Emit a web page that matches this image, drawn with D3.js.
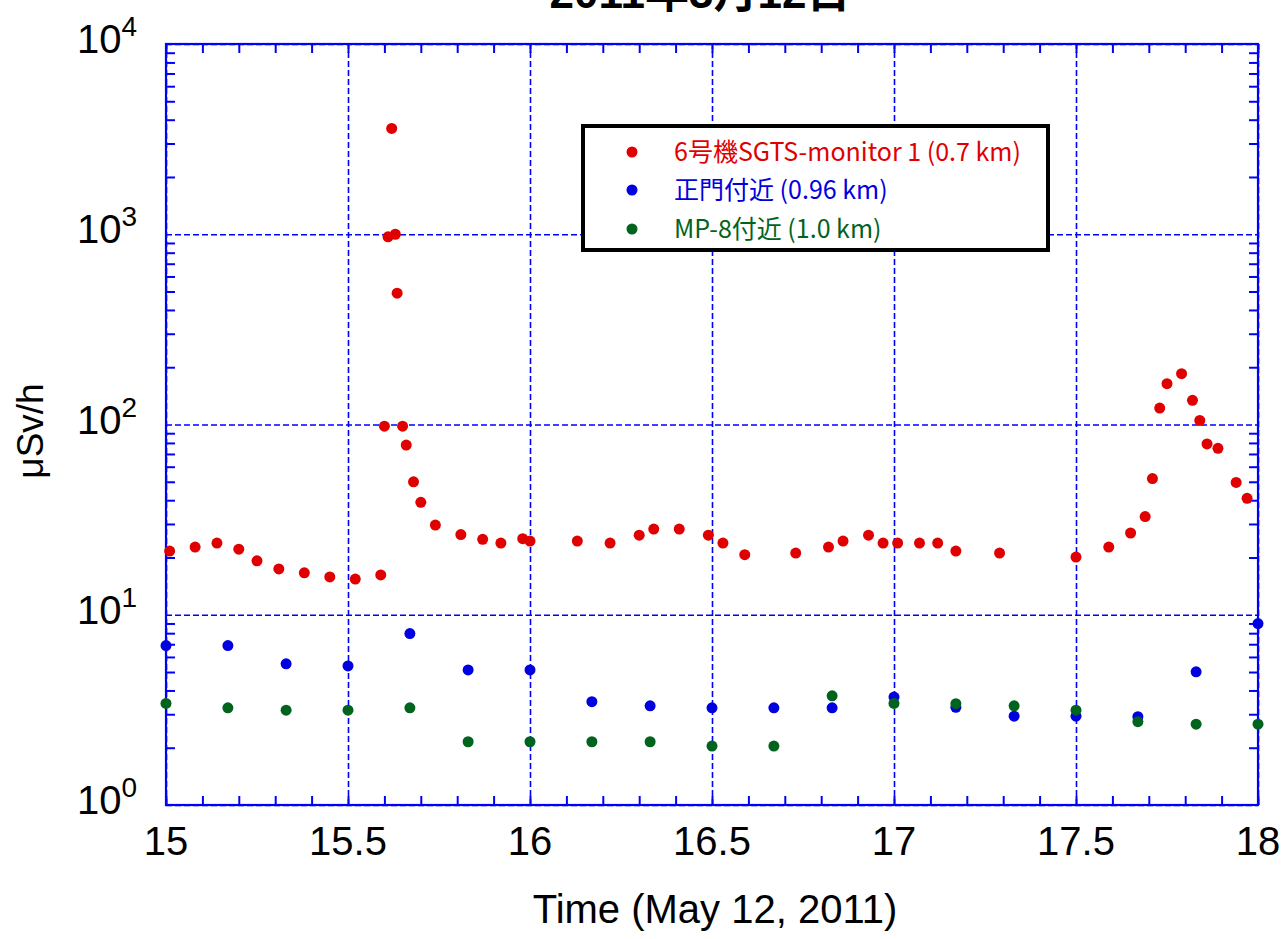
<!DOCTYPE html>
<html><head><meta charset="utf-8">
<script src="https://cdn.jsdelivr.net/npm/d3@7"></script>
<style>
html,body{margin:0;padding:0;background:#fff;}
svg{display:block;}
</style></head>
<body>
<svg id="chart" width="1285" height="939"></svg>
<script>
// ---- data ----
const redT = [15.01,15.08,15.14,15.20,15.25,15.31,15.38,15.45,15.52,15.59,15.60,15.61,15.62,15.63,15.635,15.65,15.66,15.68,15.70,15.74,15.81,15.87,15.92,15.98,16.00,16.13,16.22,16.30,16.34,16.41,16.49,16.53,16.59,16.73,16.82,16.86,16.93,16.97,17.01,17.07,17.12,17.17,17.29,17.50,17.59,17.65,17.69,17.71,17.73,17.75,17.79,17.82,17.84,17.86,17.89,17.94,17.97];
const redV = [21.6,22.7,23.8,22.1,19.2,17.4,16.6,15.8,15.4,16.2,98,970,3600,1000,490,98,78,50,39,29.6,26.4,24.9,23.8,25.1,24.4,24.4,23.8,26.2,28.2,28.2,26.2,23.8,20.7,21.1,22.7,24.4,26.2,23.8,23.8,23.8,23.8,21.6,21.1,20.1,22.7,26.9,32.8,52,122,164,185,134,105,79,75,49.6,40.9];
const blueT = [15.00,15.17,15.33,15.50,15.67,15.83,16.00,16.17,16.33,16.50,16.67,16.83,17.00,17.17,17.33,17.50,17.67,17.83,18.00];
const blueV = [6.89,6.89,5.52,5.38,7.96,5.13,5.13,3.49,3.32,3.24,3.24,3.24,3.69,3.26,2.93,2.93,2.91,5.01,8.99];
const greenT = [15.00,15.17,15.33,15.50,15.67,15.83,16.00,16.17,16.33,16.50,16.67,16.83,17.00,17.17,17.33,17.50,17.67,17.83,18.00];
const greenV = [3.42,3.24,3.15,3.15,3.24,2.15,2.15,2.15,2.15,2.04,2.04,3.75,3.42,3.41,3.32,3.15,2.74,2.66,2.66];
const seriesNames = ["6号機SGTS-monitor 1 (0.7 km)", "正門付近 (0.96 km)", "MP-8付近 (1.0 km)"];
const seriesColors = ["#e00000", "#0000e0", "#00641e"];
const xTicks = [15,15.5,16,16.5,17,17.5,18];
const xTickLabels = ["15","15.5","16","16.5","17","17.5","18"];
const yTicks = [1,10,100,1000,10000];
const yTickExp = ["0","1","2","3","4"];
const titleText = "2011年3月12日";
const xLabel = "Time (May 12, 2011)";
const yLabel = "μSv/h";

// ---- layout ----
const L = 166, R = 1258, T = 44, B = 805;
const AX = "#0000ff";
const svg = d3.select("#chart");
const x = d3.scaleLinear().domain([15,18]).range([L,R]);
const y = d3.scaleLog().domain([1,10000]).range([B,T]);

// grid
const grid = svg.append("g");
grid.append("g").attr("transform",`translate(0,${B})`)
  .call(d3.axisBottom(x).tickValues(xTicks).tickSize(-(B-T)).tickFormat(""))
  .call(g=>{g.select(".domain").remove(); g.selectAll("line").attr("stroke",AX).attr("stroke-width",1.6).attr("stroke-dasharray","6,3");});
grid.append("g").attr("transform",`translate(${L},0)`)
  .call(d3.axisLeft(y).tickValues(yTicks).tickSize(-(R-L)).tickFormat(""))
  .call(g=>{g.select(".domain").remove(); g.selectAll("line").attr("stroke",AX).attr("stroke-width",1.6).attr("stroke-dasharray","6,3");});

// minor ticks
const xMinor = d3.range(0,31).map(i=>15+i*0.1);
const yMinor = [];
[1,10,100,1000].forEach(d=>{for(let k=2;k<=9;k++) yMinor.push(d*k);});
function styleTicks(g){g.select(".domain").remove(); g.selectAll("line").attr("stroke",AX).attr("stroke-width",2);}
svg.append("g").attr("transform",`translate(0,${B})`).call(d3.axisBottom(x).tickValues(xMinor).tickSize(-9).tickFormat("")).call(styleTicks);
svg.append("g").attr("transform",`translate(0,${T})`).call(d3.axisTop(x).tickValues(xMinor).tickSize(-9).tickFormat("")).call(styleTicks);
svg.append("g").attr("transform",`translate(${L},0)`).call(d3.axisLeft(y).tickValues(yMinor).tickSize(-9).tickFormat("")).call(styleTicks);
svg.append("g").attr("transform",`translate(${R},0)`).call(d3.axisRight(y).tickValues(yMinor).tickSize(-9).tickFormat("")).call(styleTicks);

// frame
svg.append("rect").attr("x",L).attr("y",T).attr("width",R-L).attr("height",B-T)
  .attr("fill","none").attr("stroke",AX).attr("stroke-width",2.2);

// x tick labels
svg.append("g").selectAll("text").data(xTicks).join("text")
  .attr("x",d=>x(d)).attr("y",B+50).attr("text-anchor","middle")
  .attr("font-family","Liberation Sans, Arial, sans-serif").attr("font-size",40).attr("fill","#000")
  .text((d,i)=>xTickLabels[i]);

// y tick labels
const yl = svg.append("g").selectAll("text").data(yTicks).join("text")
  .attr("x",137).attr("y",d=>y(d)+9).attr("text-anchor","end")
  .attr("font-family","Liberation Sans, Arial, sans-serif").attr("font-size",40).attr("fill","#000");
yl.append("tspan").text("10");
yl.append("tspan").attr("font-size",28).attr("dy",-17).text((d,i)=>yTickExp[i]);

// axis titles
svg.append("text").attr("x",715).attr("y",923).attr("text-anchor","middle")
  .attr("font-family","Liberation Sans, Arial, sans-serif").attr("font-size",40).text(xLabel);
svg.append("text").attr("transform","translate(43,431) rotate(-90)").attr("text-anchor","middle")
  .attr("font-family","Liberation Sans, Arial, sans-serif").attr("font-size",37).text(yLabel);
svg.append("text").attr("x",700).attr("y",8).attr("text-anchor","middle")
  .attr("font-family","Liberation Sans, Noto Sans CJK JP, sans-serif").attr("font-weight","bold").attr("font-size",44).text(titleText);

// points
const series = [[redT,redV],[blueT,blueV],[greenT,greenV]];
series.forEach(([ts,vs],si)=>{
  svg.append("g").selectAll("circle").data(ts.map((t,i)=>[t,vs[i]])).join("circle")
    .attr("cx",d=>x(d[0])).attr("cy",d=>y(d[1])).attr("r",5.5).attr("fill",seriesColors[si]);
});

// legend
const lg = svg.append("g");
lg.append("rect").attr("x",583).attr("y",126).attr("width",465).attr("height",124)
  .attr("fill","#fff").attr("stroke","#000").attr("stroke-width",4);
const ly = [152,190,229];
seriesNames.forEach((n,i)=>{
  lg.append("circle").attr("cx",632).attr("cy",ly[i]).attr("r",5.5).attr("fill",seriesColors[i]);
  lg.append("text").attr("x",674).attr("y",ly[i]+9).attr("font-family","Noto Sans CJK JP, sans-serif")
    .attr("font-size",25).attr("fill",seriesColors[i]).text(n);
});
</script>
</body></html>
